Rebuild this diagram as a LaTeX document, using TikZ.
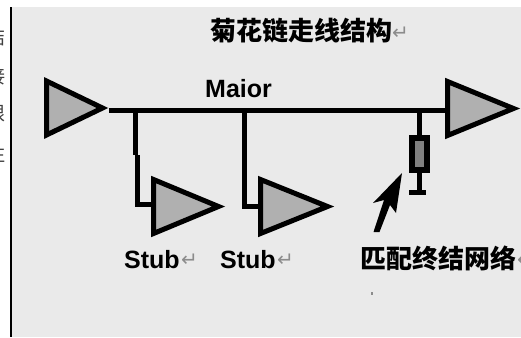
\documentclass[tikz,border=0pt]{standalone}
\usepackage{fontspec}
\usepackage{xcolor}
\usepackage{tikz}
\usetikzlibrary{shapes.geometric}
\setmainfont{Liberation Sans}
\newfontfamily\cjkfont{Noto Sans CJK SC}
\newfontfamily\markfont{DejaVu Sans}
\definecolor{panelgray}{HTML}{EAEAEA}
\definecolor{ampgray}{HTML}{B0B0B0}
\definecolor{resgray}{HTML}{808080}
\definecolor{markgray}{HTML}{8C8C8C}
\tikzset{
    amp/.style={draw=black,fill=ampgray,line width=5pt,isosceles triangle,isosceles triangle stretches,
        shape border rotate=0,inner sep=0pt,anchor=lower side,minimum height=#1,minimum width=54pt},
    wire/.style={line width=5pt},
    latin/.style={font=\fontsize{25}{27}\selectfont\bfseries,inner sep=0pt},
    cjk/.style={font=\fontsize{26}{28}\cjkfont\bfseries,inner sep=0pt},
    margintext/.style={font=\fontsize{19}{20}\cjkfont,text=black!75,inner sep=0pt},
    ret/.style={font=\fontsize{20}{21}\markfont,text=markgray,inner sep=0pt}
}
\begin{document}
\begin{tikzpicture}[x=1pt,y=-1pt]
    \useasboundingbox (0,0) rectangle (521,337);
    \fill[panelgray] (11,7) rectangle (521,337);
    \fill[black] (9.5,7) rectangle (12,337);

    \node[margintext] (m1) at (-3.5,37) {结};
    \node[margintext] (m2) at (-3.5,76) {接};
    \node[margintext] (m3) at (-3.5,114) {限};
    \node[margintext] (m4) at (-3.5,154) {注};

    \node[amp=56pt] (amp1) at (44,108) {};
    \node[amp=65pt] (amp2) at (151,206.5) {};
    \node[amp=67pt] (amp3) at (258,206.5) {};
    \node[amp=66pt] (amp4) at (445,108.5) {};

    \coordinate (j1) at (135,110.5);
    \coordinate (j2) at (244,110.5);
    \coordinate (j3) at (419.5,110.5);
    \coordinate (k1) at (135,155);
    \coordinate (k2) at (137,155);
    \coordinate (e1) at (137,204.5);
    \coordinate (e2) at (244,206);

    \draw[wire] (amp1.apex |- j1) -- (amp4.lower side |- j1);
    \draw[wire] (j1) -- (k1);
    \draw[wire] (k2) -- (e1) -- (amp2.lower side |- e1);
    \draw[wire] (j2) -- (e2) -- (amp3.lower side |- e2);

    \node[draw=black,fill=resgray,line width=6pt,inner sep=0pt,minimum width=15pt,minimum height=32pt] (res) at (419.5,154) {};
    \node[fill=black,inner sep=0pt,minimum width=17pt,minimum height=5pt] (gnd) at (417.5,192.5) {};
    \draw[wire] (j3) -- (res.north);
    \draw[wire] (res.south) -- (res.south |- gnd.north);

    %arrow
    \fill[black] (402,173) -- (373,203) -- (384,200) -- (373.5,232) -- (379.5,232) -- (390,205) -- (396,213) -- cycle;

    \node[cjk,anchor=west] (title) at (210,31) {菊花链走线结构};
    \node[ret,anchor=west] (r0) at (392,33) {↵};
    \node[latin,anchor=base west] (main) at (205,97) {Maior};
    \node[latin,anchor=base west] (s1) at (124,268) {Stub};
    \node[ret,anchor=west] (r1) at (181,260) {↵};
    \node[latin,anchor=base west] (s2) at (220,268) {Stub};
    \node[ret,anchor=west] (r2) at (277,260) {↵};
    \node[cjk,anchor=west] (net) at (360,258) {匹配终结网络};
    \node[ret,anchor=west] (r3) at (517,260) {↵};

    \fill[markgray] (371,292) rectangle (373,295);
\end{tikzpicture}
\end{document}
